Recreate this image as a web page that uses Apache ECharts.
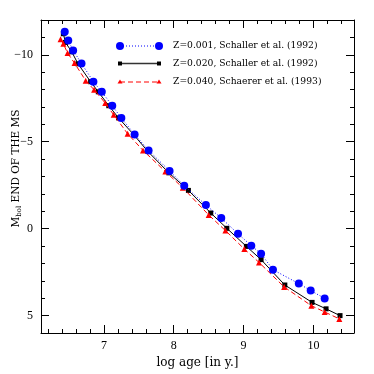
<!DOCTYPE html>
<html><head><meta charset="utf-8">
<script src="https://cdn.jsdelivr.net/npm/echarts@6/dist/echarts.min.js"></script>
<style>html,body{margin:0;padding:0;background:#fff}#c{width:374px;height:374px}</style>
</head><body><div id="c"></div>
<script>
// Data (log age, M_bol)
const xBlue = [6.44, 6.49, 6.56, 6.68, 6.85, 6.97, 7.12, 7.25, 7.44, 7.64, 7.94, 8.15, 8.46, 8.68, 8.92, 9.11, 9.25, 9.42, 9.79, 9.96, 10.16];
const yBlue = [-11.32, -10.82, -10.25, -9.50, -8.45, -7.87, -7.07, -6.36, -5.42, -4.50, -3.32, -2.47, -1.36, -0.61, 0.29, 0.98, 1.44, 2.36, 3.16, 3.56, 4.01];
const xBlack = [6.42, 6.45, 6.54, 6.63, 6.81, 6.92, 7.07, 7.21, 7.43, 7.63, 7.93, 8.21, 8.53, 8.76, 9.04, 9.25, 9.59, 9.98, 10.18, 10.38];
const yBlack = [-11.21, -10.71, -10.17, -9.48, -8.45, -7.87, -7.07, -6.37, -5.39, -4.44, -3.21, -2.20, -0.90, -0.02, 1.02, 1.78, 3.24, 4.24, 4.61, 5.00];
const xRed = [6.38, 6.42, 6.48, 6.58, 6.74, 6.86, 7.02, 7.14, 7.34, 7.56, 7.88, 8.13, 8.50, 8.74, 9.01, 9.22, 9.58, 9.97, 10.16, 10.37];
const yRed = [-10.90, -10.63, -10.10, -9.52, -8.51, -7.99, -7.22, -6.55, -5.46, -4.50, -3.29, -2.35, -0.79, 0.11, 1.17, 1.94, 3.35, 4.43, 4.79, 5.19];
const seriesNames = ['Z=0.001, Schaller et al. (1992)', 'Z=0.020, Schaller et al. (1992)', 'Z=0.040, Schaerer et al. (1993)'];
const xMajor = [7, 8, 9, 10];
const xMinor = [6.2,6.4,6.6,6.8,7.2,7.4,7.6,7.8,8.2,8.4,8.6,8.8,9.2,9.4,9.6,9.8,10.2,10.4];
const yMajor = [-10, -5, 0, 5];
const yMinor = [-12,-11,-9,-8,-7,-6,-4,-3,-2,-1,1,2,3,4,6];
const X_MIN = 6.1, X_MAX = 10.58, Y_MIN = -12, Y_MAX = 6;

const pairs = (xs, ys) => xs.map((x, i) => [x, ys[i]]);
const serif = 'Liberation Serif';
const fmt = v => v < 0 ? '\u2212' + (-v) : String(v);

function xAx(pos, ticks, len, line, labels, extra) {
  return Object.assign({
    type: 'value', position: pos, min: X_MIN, max: X_MAX,
    axisLine: { show: line, onZero: false, lineStyle: { color: '#000', width: 1 } },
    axisTick: { show: true, inside: true, length: len, customValues: ticks, lineStyle: { color: '#000', width: 1 } },
    axisLabel: labels ? { show: true, customValues: ticks, margin: 7, color: '#000', fontFamily: serif, fontSize: 12 } : { show: false },
    splitLine: { show: false }
  }, extra || {});
}
function yAx(pos, ticks, len, line, labels, extra) {
  return Object.assign({
    type: 'value', position: pos, min: Y_MIN, max: Y_MAX, inverse: true,
    axisLine: { show: line, onZero: false, lineStyle: { color: '#000', width: 1 } },
    axisTick: { show: true, inside: true, length: len, customValues: ticks, lineStyle: { color: '#000', width: 1 } },
    axisLabel: labels ? { show: true, customValues: ticks, margin: 8, color: '#000', fontFamily: serif, fontSize: 12, formatter: fmt } : { show: false },
    splitLine: { show: false }
  }, extra || {});
}

const chart = echarts.init(document.getElementById('c'), null, { renderer: 'canvas' });
const legendX0 = 120, legendX1 = 159, textX = 173;
const rowY = [46, 63.5, 82];
const legFont = '9.2px "DejaVu Serif"';
chart.setOption({
  animation: false,
  backgroundColor: '#fff',
  grid: { left: 41, right: 20, top: 20, bottom: 41, containLabel: false, outerBoundsMode: 'none' },
  xAxis: [
    xAx('bottom', xMajor, 8, true, true, {
      name: 'log age [in y.]', nameLocation: 'middle', nameGap: 24, nameMoveOverlap: false,
      nameTextStyle: { color: '#000', fontFamily: 'DejaVu Serif', fontSize: 12 }
    }),
    xAx('bottom', xMinor, 4, false, false),
    xAx('top', xMajor, 8, true, false),
    xAx('top', xMinor, 4, false, false)
  ],
  yAxis: [
    yAx('left', yMajor, 8, true, true, {
      name: '{m|M}{s|bol}{m| END OF THE MS}', nameLocation: 'middle', nameGap: 18, nameRotate: 90,
      nameMoveOverlap: false,
      nameTextStyle: {
        color: '#000', padding: [0, 0, 0, 16],
        rich: {
          m: { fontFamily: 'DejaVu Serif', fontSize: 10.5, color: '#000' },
          s: { fontFamily: 'DejaVu Serif', fontSize: 7, color: '#000', verticalAlign: 'bottom', padding: [6, 0, 0, 0] }
        }
      }
    }),
    yAx('left', yMinor, 4, false, false),
    yAx('right', yMajor, 8, true, false),
    yAx('right', yMinor, 4, false, false)
  ],
  series: [
    {
      name: seriesNames[1], type: 'line', data: pairs(xBlack, yBlack), xAxisIndex: 0, yAxisIndex: 0,
      symbol: 'rect', symbolSize: 5, z: 3,
      lineStyle: { color: '#000', width: 1, type: 'solid' }, itemStyle: { color: '#000' }
    },
    {
      name: seriesNames[2], type: 'line', data: pairs(xRed, yRed), xAxisIndex: 0, yAxisIndex: 0,
      symbol: 'triangle', symbolSize: 6, z: 4,
      lineStyle: { color: '#ff0000', width: 1, type: [5, 3] }, itemStyle: { color: '#ff0000' }
    },
    {
      name: seriesNames[0], type: 'line', data: pairs(xBlue, yBlue), xAxisIndex: 0, yAxisIndex: 0,
      symbol: 'circle', symbolSize: 8, z: 5,
      lineStyle: { color: '#0000ff', width: 1, type: [1, 2] }, itemStyle: { color: '#0000ff' }
    }
  ],
  graphic: [
    { type: 'line', shape: { x1: legendX0, y1: rowY[0], x2: legendX1, y2: rowY[0] }, style: { stroke: '#0000ff', lineWidth: 1, lineDash: [1, 2] } },
    { type: 'circle', shape: { cx: legendX0, cy: rowY[0], r: 4 }, style: { fill: '#0000ff' } },
    { type: 'circle', shape: { cx: legendX1, cy: rowY[0], r: 4 }, style: { fill: '#0000ff' } },
    { type: 'text', x: textX, y: rowY[0], style: { text: seriesNames[0], fill: '#000', font: legFont, verticalAlign: 'middle' } },

    { type: 'line', shape: { x1: legendX0, y1: rowY[1], x2: legendX1, y2: rowY[1] }, style: { stroke: '#333', lineWidth: 1.5 } },
    { type: 'rect', shape: { x: legendX0 - 2, y: rowY[1] - 2, width: 4, height: 4 }, style: { fill: '#000' } },
    { type: 'rect', shape: { x: legendX1 - 2, y: rowY[1] - 2, width: 4, height: 4 }, style: { fill: '#000' } },
    { type: 'text', x: textX, y: rowY[1], style: { text: seriesNames[1], fill: '#000', font: legFont, verticalAlign: 'middle' } },

    { type: 'line', shape: { x1: legendX0, y1: rowY[2], x2: legendX1, y2: rowY[2] }, style: { stroke: '#ff0000', lineWidth: 1, lineDash: [5, 3] } },
    { type: 'polygon', shape: { points: [[legendX0, rowY[2] - 2.5], [legendX0 - 2.5, rowY[2] + 1.5], [legendX0 + 2.5, rowY[2] + 1.5]] }, style: { fill: '#ff0000' } },
    { type: 'polygon', shape: { points: [[legendX1, rowY[2] - 2.5], [legendX1 - 2.5, rowY[2] + 1.5], [legendX1 + 2.5, rowY[2] + 1.5]] }, style: { fill: '#ff0000' } },
    { type: 'text', x: textX, y: rowY[2], style: { text: seriesNames[2], fill: '#000', font: legFont, verticalAlign: 'middle' } }
  ]
});
</script></body></html>
